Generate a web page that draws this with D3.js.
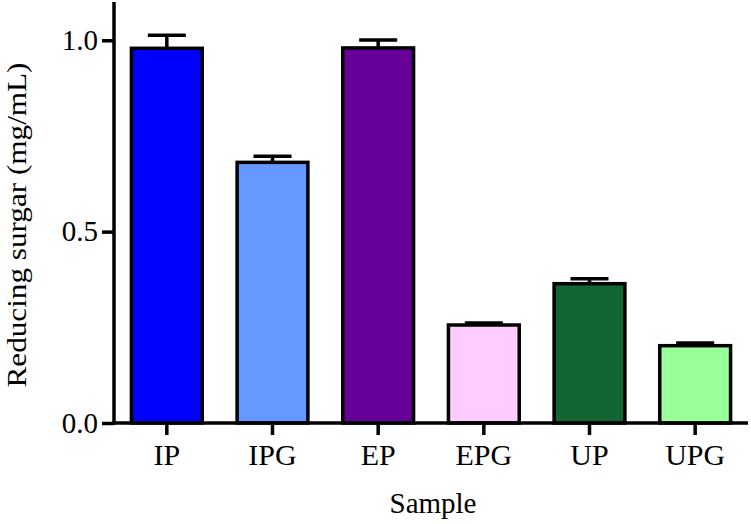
<!DOCTYPE html>
<html><head><meta charset="utf-8">
<script src="https://cdn.jsdelivr.net/npm/d3@7"></script>
<style>body{margin:0;background:#fff}svg{display:block}</style>
</head><body>
<svg id="c" width="751" height="524"></svg>
<script>
const categories = ["IP","IPG","EP","EPG","UP","UPG"];
const values = [0.979, 0.681, 0.980, 0.256, 0.364, 0.202];
const errors = [0.034, 0.016, 0.021, 0.005, 0.013, 0.007];
const colors = ["#0000FF","#6699FF","#660099","#FFCCFF","#116633","#99FF99"];
const yTicks = [0.0, 0.5, 1.0];

const svg = d3.select("#c");
const m = {l:114, r:3, t:2, b:101};
const W = 751, H = 524;
const x = d3.scaleBand().domain(categories).range([m.l, W-m.r]).paddingInner(0.33).paddingOuter(0.165);
const y = d3.scaleLinear().domain([0,1.1]).range([H-m.b, m.t]);
const font = "'Liberation Serif','Times New Roman',serif";

const g = svg.append("g");
g.selectAll("rect.bar").data(categories).join("rect")
  .attr("x", d=>x(d)).attr("width", x.bandwidth())
  .attr("y", (d,i)=>y(values[i])).attr("height", (d,i)=>y(0)-y(values[i]))
  .attr("fill", (d,i)=>colors[i]).attr("stroke","#000").attr("stroke-width",3.5);

const cw = 38;
categories.forEach((d,i)=>{
  const cx = x(d)+x.bandwidth()/2;
  g.append("line").attr("x1",cx).attr("x2",cx).attr("y1",y(values[i])).attr("y2",y(values[i]+errors[i]))
    .attr("stroke","#000").attr("stroke-width",3.5);
  g.append("line").attr("x1",cx-cw/2).attr("x2",cx+cw/2).attr("y1",y(values[i]+errors[i])).attr("y2",y(values[i]+errors[i]))
    .attr("stroke","#000").attr("stroke-width",3.5);
});

const xa = svg.append("g").attr("transform",`translate(0,${y(0)})`)
  .call(d3.axisBottom(x).tickSize(12).tickPadding(9).tickSizeOuter(0));
const ya = svg.append("g").attr("transform",`translate(${m.l},0)`)
  .call(d3.axisLeft(y).tickValues(yTicks).tickFormat(d3.format(".1f")).tickSize(12).tickPadding(4).tickSizeOuter(0));
[xa,ya].forEach(a=>{
  a.select(".domain").attr("stroke","#000").attr("stroke-width",3.5);
  a.selectAll(".tick line").attr("stroke","#000").attr("stroke-width",3.5);
  a.selectAll("text").attr("fill","#000").style("font-family",font);
});
xa.selectAll("text").style("font-size","30px");
ya.selectAll("text").style("font-size","29px");
xa.select(".domain").attr("d",`M${m.l-1.75},0H${W-m.r}`);
ya.select(".domain").attr("d",`M0,${y(0)+1.75}V${m.t}`);

svg.append("text").attr("x", 433).attr("y", 513).attr("text-anchor","middle")
  .style("font-family",font).style("font-size","29px").text("Sample");
svg.append("text").attr("transform",`translate(26,225) rotate(-90)`).attr("text-anchor","middle")
  .attr("textLength",325).attr("lengthAdjust","spacingAndGlyphs")
  .style("font-family",font).style("font-size","28px").text("Reducing surgar (mg/mL)");
</script>
</body></html>
